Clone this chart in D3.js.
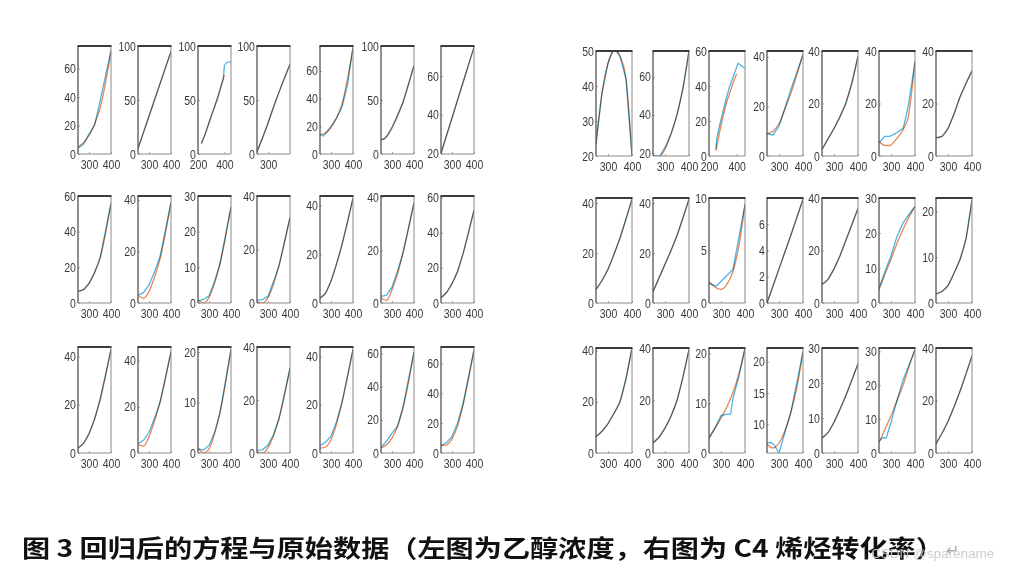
<!DOCTYPE html>
<html><head><meta charset="utf-8">
<script src="https://cdn.jsdelivr.net/npm/d3@7/dist/d3.min.js"></script>
<style>
body{margin:0;background:#fff}
svg{display:block}
.ln{fill:none;mix-blend-mode:multiply}
.tick text{font-family:"Liberation Sans",Arial,sans-serif;font-size:12.5px;fill:#3a3a3a}
</style></head>
<body><svg id="c" width="1015" height="572"></svg>
<script>
// ---------- DATA ----------
const stdXDomain = [250, 400];
const stdXTicks = [300, 400];

// left group: ethanol conversion
const leftXDomains = [null, null, [200, 450], [250, 398], null, null, null,
  null, null, null, null, null, null, null,
  null, null, null, null, null, null, null];
const leftXTicks = [null, null, [200, 400], [300], null, null, null,
  null, null, null, null, null, null, null,
  null, null, null, null, null, null, null];
const leftYDomains = [[0,76],[0,100],[0,100],[0,100],[0,78],[0,100],[19.6,75.6],
  [0,60],[0,41.5],[0,30],[0,40],[0,44],[0,40.5],[0,61],
  [0,44],[0,46],[0,21],[0,40],[0,44],[0,64],[0,71]];
const leftYTicks = [[0,20,40,60],[0,50,100],[0,50,100],[0,50,100],[0,20,40,60],[0,50,100],[20,40,60],
  [0,20,40,60],[0,20,40],[0,10,20,30],[0,20,40],[0,20,40],[0,20,40],[0,20,40,60],
  [0,20,40],[0,20,40],[0,10,20],[0,20,40],[0,20,40],[0,20,40,60],[0,20,40,60]];
const leftData = [
  [[250,4],[275,7],[300,14],[325,20],[350,37],[400,73]],
  [[250,5],[275,20],[300,35],[325,50],[350,65],[400,95]],
  [[225,10],[250,17],[275,26],[300,35],[325,43],[350,52],[375,63],[392,70],[400,82],[420,85],[450,85]],
  [[250,2],[275,15],[300,29],[325,44],[350,58],[398,83]],
  [[250,14],[265,13],[300,20],[325,26],[350,34],[375,50],[400,77]],
  [[250,13],[265,14],[275,16],[300,25],[325,36],[350,48],[400,82]],
  [[250,20],[275,29.2],[300,38.3],[325,47.5],[350,56.7],[400,75]],
  [[250,6.5],[275,7.5],[300,11],[325,17],[350,25],[400,56]],
  [[250,3],[275,4],[300,7],[325,12],[350,18],[400,39]],
  [[250,0.6],[275,1],[300,2],[325,6],[350,11],[400,27]],
  [[250,1],[275,1.3],[300,2.5],[325,8],[350,14],[400,32]],
  [[250,2],[275,4],[300,9],[325,16],[350,24],[400,43]],
  [[250,2.5],[275,3],[300,6],[325,12],[350,19],[400,38]],
  [[250,3],[275,6],[300,11],[325,18],[350,28],[400,53]],
  [[250,2],[275,4],[300,8],[325,14],[350,22],[400,43]],
  [[250,4],[275,5.5],[300,9],[325,15],[350,22],[400,44]],
  [[250,0.8],[275,0.6],[300,1.5],[325,4],[350,8],[400,20.5]],
  [[250,1],[275,1.2],[300,3],[325,7],[350,13],[400,32]],
  [[250,3],[275,4.5],[300,7],[325,13],[350,21],[400,43]],
  [[250,3.5],[275,7],[300,12],[325,16],[350,28],[400,61]],
  [[250,5],[275,7],[300,11],[325,20],[350,33],[400,69]]
];
const leftFit = [
  [[250,5],[275,8],[300,13],[325,21],[350,32],[400,72]],
  [[250,5],[275,20],[300,35],[325,50],[350,65],[400,95]],
  [[225,9],[250,17],[275,26],[300,35],[325,44],[350,53],[375,63],[400,73]],
  [[250,2],[275,15],[300,29],[325,44],[350,58],[398,83]],
  [[250,14],[275,15],[300,19],[325,26],[350,36],[375,54],[400,77]],
  [[250,13],[275,16],[300,24],[325,35],[350,48],[400,82]],
  [[250,20],[275,29.2],[300,38.3],[325,47.5],[350,56.7],[400,75]],
  [[250,6.5],[275,7.5],[300,11],[325,17],[350,25],[400,56]],
  [[250,3],[275,1.8],[300,4.5],[325,10],[350,17],[400,39]],
  [[250,0.8],[275,0],[300,1.5],[325,5.5],[350,11],[400,27]],
  [[250,0.5],[275,0],[300,2],[325,7],[350,14],[400,32]],
  [[250,2],[275,4],[300,9],[325,16],[350,24],[400,43]],
  [[250,2],[275,1],[300,5],[325,11],[350,19],[400,38]],
  [[250,3],[275,6],[300,11],[325,18],[350,28],[400,53]],
  [[250,2],[275,4],[300,8],[325,14],[350,22],[400,43]],
  [[250,3.5],[275,3],[300,7],[325,14],[350,22],[400,44]],
  [[250,1],[275,0],[300,0.8],[325,3.8],[350,8],[400,20.5]],
  [[250,0.3],[275,0],[300,2],[325,6.5],[350,13],[400,32]],
  [[250,2],[275,2.5],[300,5.5],[325,12],[350,21],[400,43]],
  [[250,3],[275,5],[300,9],[325,16],[350,27],[400,61]],
  [[250,5],[275,5.5],[300,9.5],[325,18],[350,32],[400,69]]
];

// right group: C4 olefin
const rightXDomains = [null, null, [200, 460], null, null, null, null,
  null, null, null, null, null, null, null,
  null, null, null, null, null, null, null];
const rightXTicks = [null, null, [200, 400], null, null, null, null,
  null, null, null, null, null, null, null,
  null, null, null, null, null, null, null];
const rightYDomains = [[20,50],[18.5,73.5],[0,60],[0,42.4],[0,40],[0,40],[0,40],
  [0,42],[0,42],[0,10],[0,8],[0,40],[0,30],[0,22.9],
  [0,41],[0,40],[0,21.1],[5.4,22.2],[0,30],[0,31],[0,40]];
const rightYTicks = [[20,30,40,50],[20,40,60],[0,20,40,60],[0,20,40],[0,20,40],[0,20,40],[0,20,40],
  [0,20,40],[0,20,40],[0,5,10],[0,2,4,6],[0,20,40],[0,10,20,30],[0,10,20],
  [0,20,40],[0,20,40],[0,10,20],[10,15,20],[0,10,20,30],[0,10,20,30],[0,20,40]];
const rightData = [
  [[250,23.5],[275,38],[300,46.5],[320,50.3],[335,50.3],[350,48.5],[375,42],[400,20]],
  [[250,18.7],[280,18.8],[300,23],[325,30],[350,40],[375,54],[400,73.5]],
  [[250,4],[256,10],[275,17],[300,25],[325,33],[350,40],[410,53],[460,50]],
  [[250,9],[275,8.5],[300,12],[325,19.5],[350,27],[400,41]],
  [[250,2.5],[275,6.5],[300,10.5],[325,15],[350,20],[375,28],[400,38]],
  [[250,5],[274,7.5],[295,7.5],[323,8.8],[351,10.6],[372,19],[400,36]],
  [[250,6.9],[275,7.5],[300,10.5],[325,16],[350,22.5],[400,32.5]],
  [[250,5.4],[275,9],[300,13.5],[325,19.5],[350,26],[400,41.5]],
  [[250,4.5],[275,10],[300,15.5],[325,21],[350,27],[400,41.5]],
  [[250,1.9],[280,1.6],[315,2.4],[350,3.2],[400,9.4]],
  [[250,0],[275,1.3],[300,2.6],[325,3.9],[350,5.2],[400,7.9]],
  [[250,7],[275,9],[300,13],[325,18],[350,24],[400,36]],
  [[250,4.2],[275,9],[300,13.5],[325,19],[351,23],[372,25],[400,27.6]],
  [[250,2],[275,2.5],[300,3.8],[325,6.5],[350,9.5],[375,14],[400,22.5]],
  [[250,6.3],[275,8.5],[300,11.5],[325,15.5],[350,20],[375,29],[400,41]],
  [[250,3.8],[275,6],[300,9.5],[325,14],[350,20],[375,29],[400,39.5]],
  [[250,3],[275,5],[300,7.5],[325,7.8],[340,7.8],[350,11],[375,15.5],[400,21]],
  [[250,7],[265,7.1],[280,6.7],[300,5.4],[330,9.4],[350,12],[400,21.6]],
  [[250,4.3],[275,5.8],[300,8.8],[325,12.5],[350,16.5],[400,25.5]],
  [[250,3.5],[265,4.5],[280,4.5],[300,9],[325,15.5],[350,21.5],[375,26],[400,30.5]],
  [[250,3.5],[275,7.5],[300,12],[325,17.5],[350,23.5],[400,37]]
];
const rightFit = [
  [[250,23.5],[275,38],[300,46.5],[327,50],[350,48.5],[375,42],[400,20]],
  [[250,16],[275,17.5],[300,22],[325,30],[350,40],[375,54],[400,73.5]],
  [[250,3],[275,13],[300,22],[325,30],[350,36],[375,42],[400,47]],
  [[250,9],[275,10],[300,13],[325,19],[350,25.5],[400,41]],
  [[250,2.5],[275,6.5],[300,10.5],[325,15],[350,20.5],[375,28],[400,38]],
  [[250,5.6],[275,4],[295,4],[323,6.5],[350,10],[372,15],[400,36]],
  [[250,6.9],[275,7.5],[300,10.5],[325,16],[350,22.5],[400,32.5]],
  [[250,5.4],[275,9],[300,13.5],[325,19.5],[350,26],[400,41.5]],
  [[250,4.5],[275,10],[300,15.5],[325,21],[350,27],[400,41.5]],
  [[250,2],[275,1.5],[300,1.3],[325,1.8],[350,3.0],[375,5.5],[400,9.4]],
  [[250,0],[275,1.3],[300,2.6],[325,3.9],[350,5.2],[400,7.9]],
  [[250,7],[275,9],[300,13],[325,18],[350,24],[400,36]],
  [[250,3.8],[275,8.2],[300,12.5],[325,17],[350,21],[375,24.5],[400,27.6]],
  [[250,2],[275,2.5],[300,3.8],[325,6.5],[350,9.5],[375,14],[400,22.5]],
  [[250,6.3],[275,8.5],[300,11.5],[325,15.5],[350,20],[375,29],[400,41]],
  [[250,3.8],[275,6],[300,9.5],[325,14],[350,20],[375,29],[400,39.5]],
  [[250,3],[275,5],[300,7],[325,9.3],[350,12.2],[375,16],[400,21]],
  [[250,6.8],[275,6.2],[300,7],[325,9],[350,12],[375,16],[400,21.6]],
  [[250,4.3],[275,5.8],[300,8.8],[325,12.5],[350,16.5],[400,25.5]],
  [[250,3],[275,7],[300,11],[325,15.5],[350,20],[375,25.5],[400,30.5]],
  [[250,3.5],[275,7.5],[300,12],[325,17.5],[350,23.5],[400,37]]
];

const captionText = "图 3 回归后的方程与原始数据（左图为乙醇浓度，右图为 C4 烯烃转化率）";
const watermarkText = "CSDN @sparename";

// ---------- LAYOUT ----------
const leftCols = [78, 138, 198, 257, 320, 381, 441], leftW = 33;
const leftRows = [[46,154],[196,303],[347,453]];
const rightCols = [596, 653, 709, 767, 822, 879, 936], rightW = 36;
const rightRows = [[51,156],[198,303],[348,453]];

const blue = "#4fb4e6", orange = "#e6875a";
const svg = d3.select("#c");
let clipId = 0;

function panel(x0, w, y0, y1, xDom, xTicks, yDom, yTicks, data, fit) {
  const x = d3.scaleLinear().domain(xDom).range([x0, x0 + w]);
  const y = d3.scaleLinear().domain(yDom).range([y1, y0]);
  const g = svg.append("g");
  const id = "cp" + (clipId++);
  svg.append("clipPath").attr("id", id).append("rect")
    .attr("x", x0).attr("y", y0).attr("width", w).attr("height", y1 - y0);

  const ax = g.append("g").attr("transform", `translate(0,${y1})`)
    .call(d3.axisBottom(x).tickValues(xTicks).tickSizeInner(-2).tickSizeOuter(0).tickPadding(6).tickFormat(d3.format("d")));
  const ay = g.append("g").attr("transform", `translate(${x0},0)`)
    .call(d3.axisLeft(y).tickValues(yTicks).tickSizeInner(-2).tickSizeOuter(0).tickPadding(2.5).tickFormat(d3.format("d")));
  [ax, ay].forEach(a => {
    a.select(".domain").remove();
    a.selectAll(".tick line").attr("stroke", "#aaa");
    a.selectAll(".tick text").attr("transform", "scale(0.84,1)");
  });

  const lg = g.append("g").attr("clip-path", `url(#${id})`);
  lg.append("path").attr("class", "ln").attr("stroke", blue).attr("stroke-width", 1.3)
    .attr("d", d3.line().x(d => x(d[0])).y(d => y(d[1]))(data));
  lg.append("path").attr("class", "ln").attr("stroke", orange).attr("stroke-width", 1.3)
    .attr("d", d3.line().curve(d3.curveMonotoneX).x(d => x(d[0])).y(d => y(d[1]))(fit));

  // frame
  g.append("line").attr("x1", x0 + w).attr("x2", x0 + w).attr("y1", y0).attr("y2", y1).attr("stroke", "#8a8a8a").attr("stroke-width", 1);
  g.append("line").attr("x1", x0).attr("x2", x0 + w).attr("y1", y1).attr("y2", y1).attr("stroke", "#8a8a8a").attr("stroke-width", 1);
  g.append("line").attr("x1", x0).attr("x2", x0).attr("y1", y0).attr("y2", y1).attr("stroke", "#555").attr("stroke-width", 1.3);
  g.append("line").attr("x1", x0 - 0.5).attr("x2", x0 + w + 0.5).attr("y1", y0).attr("y2", y0).attr("stroke", "#3c3c3c").attr("stroke-width", 2);
}

function group(cols, w, rows, xDoms, xTks, yDoms, yTks, data, fit) {
  for (let i = 0; i < 21; i++) {
    const r = Math.floor(i / 7), c = i % 7;
    panel(cols[c], w, rows[r][0], rows[r][1],
      xDoms[i] || stdXDomain, xTks[i] || stdXTicks,
      yDoms[i], yTks[i], data[i], fit[i]);
  }
}
group(leftCols, leftW, leftRows, leftXDomains, leftXTicks, leftYDomains, leftYTicks, leftData, leftFit);
group(rightCols, rightW, rightRows, rightXDomains, rightXTicks, rightYDomains, rightYTicks, rightData, rightFit);

// caption
svg.append("text").attr("x", 22).attr("y", 557)
  .attr("textLength", 922).attr("lengthAdjust", "spacingAndGlyphs")
  .style("font-family", "'Noto Sans CJK SC', sans-serif").style("font-size", "24px").style("font-weight", "bold")
  .attr("fill", "#111").text(captionText);
svg.append("text").attr("x", 946).attr("y", 556)
  .style("font-family", "'DejaVu Sans', sans-serif").style("font-size", "16px").attr("fill", "#aaa").text("↵");
svg.append("text").attr("x", 871).attr("y", 558)
  .style("font-family", "'Liberation Sans', Arial, sans-serif").style("font-size", "13.5px").attr("fill", "#c8c8c8")
  .attr("opacity", 0.9).text(watermarkText);
</script>
</body></html>
